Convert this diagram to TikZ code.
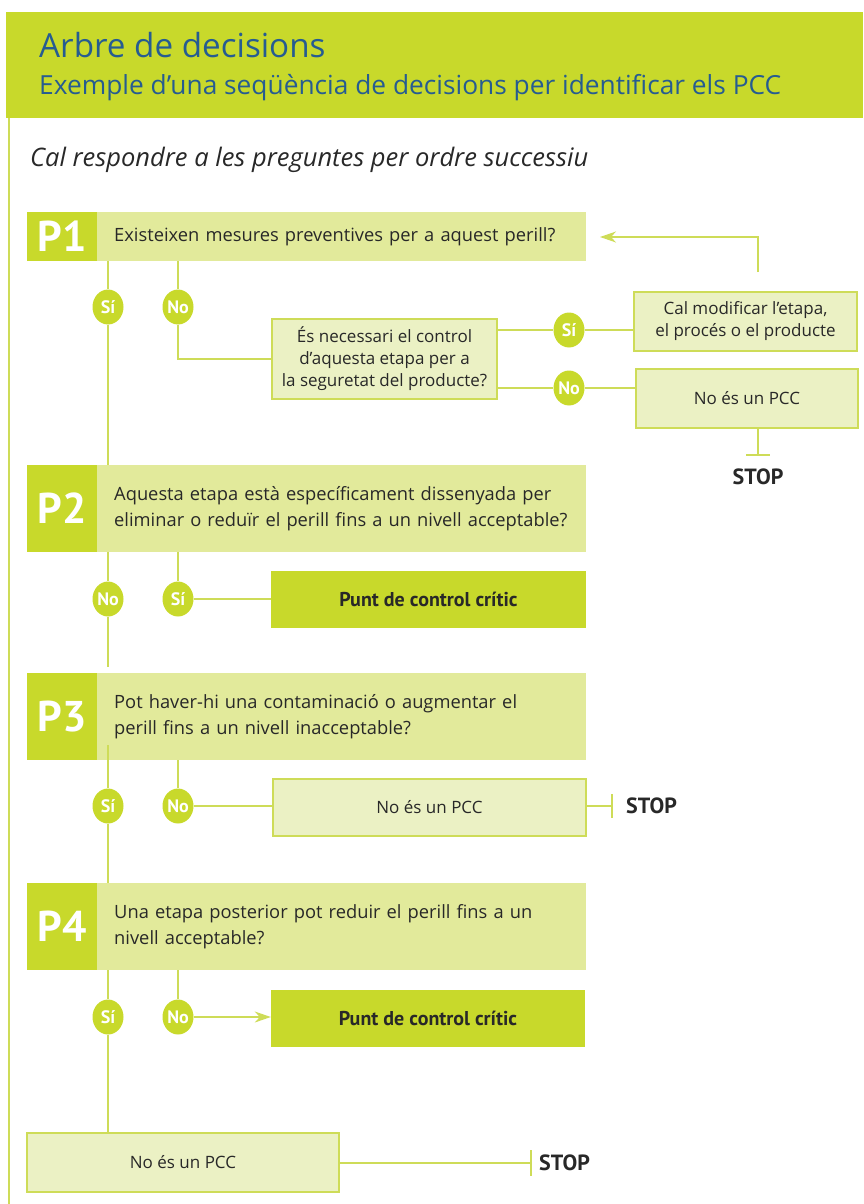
\documentclass[tikz,border=0pt]{standalone}
\usepackage{fontspec}
\setmainfont{Open Sans}
\newfontfamily\ptsans{PT Sans}
\usetikzlibrary{arrows.meta,shapes.geometric,calc}
\definecolor{dkg}{RGB}{200,217,43}
\definecolor{qfill}{RGB}{226,234,155}
\definecolor{bfill}{RGB}{235,241,196}
\definecolor{bline}{RGB}{206,220,88}
\definecolor{titleblue}{RGB}{38,92,145}
\definecolor{txt}{RGB}{40,40,40}
\hbadness=10000 \hfuzz=100pt
\tikzset{
  ln/.style={draw=bline, line width=1.3pt},
  qbox/.style={fill=qfill, anchor=west, inner xsep=17pt, inner ysep=0pt, text width=455pt, align=left, text=txt, font=\fontsize{18.3}{26}\selectfont},
  plab/.style={fill=dkg, minimum width=70pt, inner sep=0pt, text=white, font=\ptsans\bfseries\fontsize{43}{43}\selectfont},
  sbox/.style={fill=bfill, draw=bline, line width=1.3pt, inner sep=0pt, align=center, text=txt, font=\fontsize{17}{22}\selectfont},
  pcbox/.style={fill=dkg, inner sep=0pt, text=txt, font=\ptsans\bfseries\fontsize{20}{20}\selectfont},
  ans/.style={ellipse, fill=dkg, minimum width=31pt, minimum height=35pt, inner sep=0pt, text=white, font=\ptsans\bfseries\fontsize{18}{18}\selectfont},
  stoplab/.style={text=txt, inner sep=0pt, font=\ptsans\bfseries\fontsize{22}{22}\selectfont},
  tip/.style={-{Stealth[length=16pt,width=11pt,inset=5pt]}}
}
\begin{document}
\begin{tikzpicture}[x=1pt,y=-1pt]
\useasboundingbox (0,0) rectangle (863,1204);
% header
\fill[dkg] (6,12) rectangle (863,118);
\draw[ln] (9,118) -- (9,1204);
\node[anchor=base west, inner sep=0pt, text=titleblue, font=\fontsize{33.2}{34}\selectfont] (title) at (39,58) {Arbre de decisions};
\node[anchor=base west, inner sep=0pt, text=titleblue, font=\fontsize{26.3}{27}\selectfont] (subtitle) at (39,95) {Exemple d’una seqüència de decisions per identificar els PCC};
\node[anchor=base west, inner sep=0pt, text=txt, font=\itshape\fontsize{25.5}{26}\selectfont] (intro) at (30,166) {Cal respondre a les preguntes per ordre successiu};

% P1
\node[plab, minimum height=49pt] (pl1) at (62,236.5) {P1};
\node[qbox, minimum height=49pt] (q1) at (97,236.5) {Existeixen mesures preventives per a aquest perill?};
\node[ans] (s1) at (108,307) {Sí};
\node[ans] (n1) at (178,307) {No};
\node[sbox, minimum width=225pt, minimum height=80pt] (nec) at (384.5,359) {És necessari el control\\d’aquesta etapa per a\\la seguretat del producte?};
\node[ans] (s1b) at (569,330) {Sí};
\node[ans] (n1b) at (569,388) {No};
\node[sbox, minimum width=223pt, minimum height=59pt] (cm) at (745.5,321.5) {Cal modificar l’etapa,\\el procés o el producte};
\node[sbox, minimum width=222pt, minimum height=59pt] (np1) at (747,398.5) {No és un PCC};
\node[stoplab] (st1) at (758,477) {STOP};
\coordinate (back) at (758,272);
\coordinate (tip1) at (600,237);
\coordinate (t1) at (758,455);

% P2
\node[plab, minimum height=87pt] (pl2) at (62,508.5) {P2};
\node[qbox, minimum height=87pt] (q2) at (97,508.5) {\mbox{Aquesta etapa està específicament dissenyada per}\\\mbox{eliminar o reduïr el perill fins a un nivell acceptable?}};
\node[ans] (n2) at (108,599) {No};
\node[ans] (s2) at (178,599) {Sí};
\node[pcbox, minimum width=315pt, minimum height=57pt] (pc2) at (428.5,599.5) {Punt de control crític};
\coordinate (e2) at (108,667);

% P3
\node[plab, minimum height=87pt] (pl3) at (62,716.5) {P3};
\node[qbox, minimum height=87pt] (q3) at (97,716.5) {Pot haver-hi una contaminació o augmentar el\\perill fins a un nivell inacceptable?};
\node[ans] (s3) at (108,806) {Sí};
\node[ans] (n3) at (178,806) {No};
\node[sbox, minimum width=313pt, minimum height=57pt] (np3) at (429.5,807.5) {No és un PCC};
\coordinate (t3) at (612,806);
\node[stoplab, anchor=west] (st3) at (626,806) {STOP};

% P4
\node[plab, minimum height=87pt] (pl4) at (62,926.5) {P4};
\node[qbox, minimum height=87pt] (q4) at (97,926.5) {Una etapa posterior pot reduir el perill fins a un\\nivell acceptable?};
\node[ans] (s4) at (108,1017) {Sí};
\node[ans] (n4) at (178,1017) {No};
\node[pcbox, minimum width=314pt, minimum height=57pt] (pc4) at (428,1018.5) {Punt de control crític};
\node[sbox, minimum width=312pt, minimum height=59pt] (np4) at (183,1162.5) {No és un PCC};
\coordinate (t4) at (531,1163);
\node[stoplab, anchor=west] (st4) at (539,1163) {STOP};

% connectors P1
\draw[ln] (s1 |- q1.south) -- (s1.north);
\draw[ln] (s1.south) -- (s1 |- q2.north);
\draw[ln] (n1 |- q1.south) -- (n1.north);
\draw[ln] (n1.south) |- (nec.west);
\draw[ln] (nec.east |- s1b) -- (s1b.west);
\draw[ln] (s1b.east) -- (cm.west |- s1b);
\draw[ln] (nec.east |- n1b) -- (n1b.west);
\draw[ln] (n1b.east) -- (np1.west |- n1b);
\draw[ln, tip] (back) |- (tip1);
\draw[ln] (t1 |- np1.south) -- (t1);
\draw[ln] ($(t1)+(-12,0)$) -- ($(t1)+(12,0)$);

% connectors P2
\draw[ln] (n2 |- q2.south) -- (n2.north);
\draw[ln] (n2.south) -- (e2);
\draw[ln] (s2 |- q2.south) -- (s2.north);
\draw[ln] (s2.east) -- (pc2.west |- s2);

% connectors P3
\draw[ln] ($(s3 |- q3.south)+(0,-15)$) -- (s3.north);
\draw[ln] (s3.south) -- (s3 |- q4.north);
\draw[ln] (n3 |- q3.south) -- (n3.north);
\draw[ln] (n3.east) -- (np3.west |- n3);
\draw[ln] (np3.east |- n3) -- (t3);
\draw[ln] ($(t3)+(0,-12)$) -- ($(t3)+(0,12)$);

% connectors P4
\draw[ln] (s4 |- q4.south) -- (s4.north);
\draw[ln] (s4.south) -- (s4 |- np4.north);
\draw[ln] (n4 |- q4.south) -- (n4.north);
\draw[ln, tip] (n4.east) -- (pc4.west |- n4);
\draw[ln] (np4.east |- t4) -- (t4);
\draw[ln] ($(t4)+(0,-13)$) -- ($(t4)+(0,13)$);
\end{tikzpicture}
\end{document}
